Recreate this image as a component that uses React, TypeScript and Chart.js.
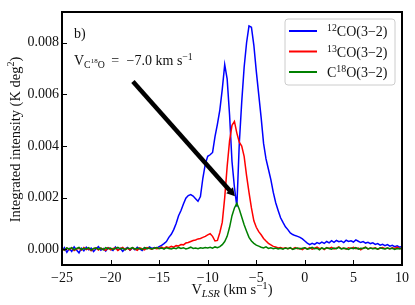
import React, { useEffect, useRef } from "react";
import { Chart, registerables } from "chart.js";

Chart.register(...registerables);

const FONT = '"Liberation Serif", "Times New Roman", serif';
const FS = 14;

// Velocity channels (km/s)
const velocity = [
  -25, -24.75, -24.5, -24.25, -24, -23.75, -23.5, -23.25, -23, -22.75,
  -22.5, -22.25, -22, -21.75, -21.5, -21.25, -21, -20.75, -20.5, -20.25,
  -20, -19.75, -19.5, -19.25, -19, -18.75, -18.5, -18.25, -18, -17.75,
  -17.5, -17.25, -17, -16.75, -16.5, -16.25, -16, -15.75, -15.5, -15.25,
  -15, -14.75, -14.5, -14.25, -14, -13.75, -13.5, -13.25, -13, -12.75,
  -12.5, -12.25, -12, -11.75, -11.5, -11.25, -11, -10.75, -10.5, -10.25,
  -10, -9.75, -9.5, -9.25, -9, -8.75, -8.5, -8.25, -8, -7.75,
  -7.5, -7.25, -7, -6.75, -6.5, -6.25, -6, -5.75, -5.5, -5.25,
  -5, -4.75, -4.5, -4.25, -4, -3.75, -3.5, -3.25, -3, -2.75,
  -2.5, -2.25, -2, -1.75, -1.5, -1.25, -1, -0.75, -0.5, -0.25,
  0, 0.25, 0.5, 0.75, 1, 1.25, 1.5, 1.75, 2, 2.25,
  2.5, 2.75, 3, 3.25, 3.5, 3.75, 4, 4.25, 4.5, 4.75,
  5, 5.25, 5.5, 5.75, 6, 6.25, 6.5, 6.75, 7, 7.25,
  7.5, 7.75, 8, 8.25, 8.5, 8.75, 9, 9.25, 9.5, 9.75,
  10,
];

// Integrated intensities, in units of 1e-4 K deg^2
const UNIT = 1e-4;
const co12 = [
  -0.5, 0.6, -1.2, 0.3, -0.8, 0.9, -0.3, -1.4, 0.4, -0.6,
  0.8, -0.2, 0.5, -0.9, 0.2, 1.0, -0.4, 0.3, -0.7, 0.6,
  0.1, -0.5, 0.9, -0.3, 0.4, -0.8, 0.2, 0.7, -0.4, 0.5,
  -0.2, 0.8, 0.1, -0.5, 0.6, 0.2, 0.9, 0.3, 0.7, 0.4,
  1.0, 1.5, 2.2, 3.0, 4.6, 5.8, 7.6, 10.0, 13.0, 15.0,
  17.5, 19.8, 20.8, 21.2, 20.6, 19.6, 18.6, 20.4, 27.5, 33.0,
  36.0, 36.6, 37.5, 43.6, 48.5, 54.0, 62.0, 71.5, 66.0, 52.0,
  34.0, 24.0, 16.5, 41.0, 57.0, 70.5, 80.0, 86.5, 86.0, 79.0,
  69.0, 60.0, 51.0, 41.0, 35.0, 31.0, 27.0, 22.0, 18.0, 15.0,
  12.2, 10.4, 8.7, 7.6, 6.3, 5.7, 5.3, 5.0, 4.6, 4.0,
  3.2, 2.4, 1.8, 2.3, 1.9, 2.6, 2.2, 2.8, 2.3, 3.0,
  2.5, 3.3, 2.7, 3.4, 2.9, 3.2, 2.6, 3.5, 3.0, 3.3,
  2.8, 3.6, 3.1, 2.6, 3.0, 2.4, 2.7, 2.2, 2.5, 1.9,
  2.2, 1.6, 1.9, 1.4, 1.8, 1.2, 1.5, 1.0, 1.3, 0.8,
  1.1,
];
const co13 = [
  0.3, -0.4, 0.5, -0.2, 0.6, -0.5, 0.1, 0.4, -0.3, 0.7,
  -0.1, 0.3, -0.6, 0.2, 0.5, -0.3, 0.4, 0.0, -0.4, 0.6,
  -0.2, 0.3, 0.5, -0.5, 0.2, 0.7, -0.1, 0.4, -0.3, 0.6,
  0.1, -0.4, 0.5, 0.2, -0.2, 0.6, 0.3, 0.0, 0.5, 0.2,
  0.4, 0.8, 0.3, 0.9, 0.6, 1.1, 0.8, 1.4, 1.3, 1.8,
  1.7, 2.4, 2.6, 3.0, 3.4, 3.6, 4.0, 4.2, 4.6, 5.0,
  5.6, 6.0, 5.0, 3.2, 3.4, 6.5, 10.5, 20.0, 32.0, 42.0,
  48.0, 49.5, 45.0, 41.5, 40.0, 36.0, 28.5, 22.0, 16.0, 11.0,
  8.5, 6.8, 5.6, 4.2, 3.2, 2.3, 1.7, 1.1, 0.9, 0.5,
  0.7, 0.3, 0.6, 0.2, 0.5, 0.1, 0.6, 0.2, 0.4, -0.1,
  0.5, 0.1, 0.6, 0.0, 0.4, 0.8, 0.2, 0.5, -0.1, 0.6,
  0.3, 0.7, 0.1, 0.4, 0.9, 0.2, 0.5, 0.0, 0.6, 0.3,
  0.7, 0.2, 0.5, -0.2, 0.4, 0.8, 0.1, 0.5, 0.3, 0.6,
  0.0, 0.4, 0.7, 0.2, 0.5, 0.1, 0.6, 0.3, 0.8, 0.2,
  0.4,
];
const c18o = [
  0.2, -0.3, 0.5, 0.0, 0.6, -0.2, 0.3, 0.7, -0.1, 0.4,
  0.1, 0.6, -0.3, 0.3, 0.5, 0.0, 0.4, -0.2, 0.6, 0.2,
  0.5, -0.1, 0.3, 0.7, 0.1, 0.4, -0.2, 0.5, 0.2, 0.6,
  0.0, 0.4, 0.3, -0.1, 0.6, 0.2, 0.5, 0.1, 0.4, 0.7,
  0.2, 0.5, 0.0, 0.6, 0.3, 0.1, 0.5, 0.2, 0.7, 0.3,
  0.6, 0.1, 0.4, 0.8, 0.3, 0.5, 0.2, 0.6, 0.4, 0.7,
  0.5, 0.8, 0.4, 0.9, 0.6, 1.0, 1.8, 3.0, 5.0, 8.5,
  13.0, 16.0, 17.8, 15.5, 12.5, 9.5, 7.0, 4.6, 3.2, 2.3,
  1.6, 1.2, 0.8, 0.5, 0.9, 0.3, 0.6, 0.2, 0.5, 0.1,
  0.4, 0.0, 0.5, 0.2, 0.6, -0.1, 0.3, 0.5, 0.1, 0.4,
  0.6, 0.0, 0.3, 0.7, 0.2, 0.4, -0.2, 0.5, 0.1, 0.6,
  0.3, 0.0, 0.5, 0.2, 0.7, 0.1, 0.4, 0.3, -0.1, 0.5,
  0.2, 0.6, 0.0, 0.4, 0.3, 0.7, 0.1, 0.5, 0.2, 0.4,
  0.0, 0.6, 0.3, 0.1, 0.5, 0.2, 0.4, -0.1, 0.3, 0.2,
  0.3,
];

const xTicks = [-25, -20, -15, -10, -5, 0, 5, 10];
const yTicks = [0, 0.002, 0.004, 0.006, 0.008];
const xRange = [-25, 10];
const yRange = [-0.00061, 0.00919];

// Arrow annotation (data coords): tail -> head
const arrowTail = [-17.7, 0.0065];
const arrowHead = [-7.2, 0.00205];

const seriesNames = ["12CO(3-2)", "13CO(3-2)", "C18O(3-2)"];
const seriesColors = ["#0000ff", "#ff0000", "#008000"];

type Seg = { t: string; s?: number; dy?: number; it?: boolean; gx?: number };
const SUP = FS * 0.7;
const legendLabels: Seg[][] = [
  [{ t: "12", s: SUP, dy: -5 }, { t: "CO(3\u22122)" }],
  [{ t: "13", s: SUP, dy: -5 }, { t: "CO(3\u22122)" }],
  [{ t: "C" }, { t: "18", s: SUP, dy: -5 }, { t: "O(3\u22122)" }],
];
const YT = 14.5;
const yTitle: Seg[] = [
  { t: "Integrated intensity (K deg", s: YT },
  { t: "2", s: YT * 0.7, dy: -5.5 },
  { t: ")", s: YT },
];
const XT = 14.5;
const xTitle: Seg[] = [
  { t: "V", s: XT },
  { t: "LSR", s: XT * 0.75, dy: 3, it: true },
  { t: " (km s", s: XT },
  { t: "\u22121", s: XT * 0.75, dy: -5.5 },
  { t: ")", s: XT },
];
const panelLabel: Seg[] = [{ t: "b)" }];
const velLabel: Seg[] = [
  { t: "V" },
  { t: "C", s: SUP, dy: 3 },
  { t: "18", s: FS * 0.5, dy: -2 },
  { t: "O", s: SUP, dy: 3 },
  { t: "=", gx: 6.5 },
  { t: "\u22127.0 km s", gx: 7.5 },
  { t: "\u22121", s: SUP, dy: -5 },
];

function setFont(ctx: CanvasRenderingContext2D, g: Seg) {
  ctx.font = `${g.it ? "italic " : ""}${g.s ?? FS}px ${FONT}`;
}
function richWidth(ctx: CanvasRenderingContext2D, segs: Seg[]) {
  let w = 0;
  for (const g of segs) {
    setFont(ctx, g);
    w += (g.gx ?? 0) + ctx.measureText(g.t).width;
  }
  return w;
}
function drawRich(ctx: CanvasRenderingContext2D, x: number, y: number, segs: Seg[], align: "left" | "center") {
  let cx = align === "center" ? x - richWidth(ctx, segs) / 2 : x;
  ctx.textAlign = "left";
  ctx.textBaseline = "alphabetic";
  ctx.fillStyle = "#111";
  for (const g of segs) {
    setFont(ctx, g);
    cx += g.gx ?? 0;
    ctx.fillText(g.t, cx, y + (g.dy ?? 0));
    cx += ctx.measureText(g.t).width;
  }
}

const decorPlugin = {
  id: "decor",
  afterDatasetsDraw(chart: any) {
    const ctx: CanvasRenderingContext2D = chart.ctx;
    const a = chart.chartArea;
    const xs = chart.scales.x;
    const ys = chart.scales.y;
    ctx.save();

    // arrow
    const x0 = xs.getPixelForValue(arrowTail[0]);
    const y0 = ys.getPixelForValue(arrowTail[1]);
    const x1 = xs.getPixelForValue(arrowHead[0]);
    const y1 = ys.getPixelForValue(arrowHead[1]);
    const ang = Math.atan2(y1 - y0, x1 - x0);
    const headLen = 8;
    const headW = 4.5;
    const bx = x1 - headLen * Math.cos(ang);
    const by = y1 - headLen * Math.sin(ang);
    ctx.strokeStyle = "#000";
    ctx.lineWidth = 4.5;
    ctx.lineCap = "butt";
    ctx.beginPath();
    ctx.moveTo(x0, y0);
    ctx.lineTo(bx + 0.5 * Math.cos(ang), by + 0.5 * Math.sin(ang));
    ctx.stroke();
    ctx.fillStyle = "#000";
    ctx.beginPath();
    ctx.moveTo(x1, y1);
    ctx.lineTo(bx + headW * Math.sin(ang), by - headW * Math.cos(ang));
    ctx.lineTo(bx - headW * Math.sin(ang), by + headW * Math.cos(ang));
    ctx.closePath();
    ctx.fill();

    // legend
    const lx = a.left + 223, ly = a.top + 7, lw = 110, lh = 66, r = 3;
    ctx.fillStyle = "rgba(255,255,255,0.85)";
    ctx.strokeStyle = "#cccccc";
    ctx.lineWidth = 1;
    ctx.beginPath();
    ctx.moveTo(lx + r, ly);
    ctx.arcTo(lx + lw, ly, lx + lw, ly + lh, r);
    ctx.arcTo(lx + lw, ly + lh, lx, ly + lh, r);
    ctx.arcTo(lx, ly + lh, lx, ly, r);
    ctx.arcTo(lx, ly, lx + lw, ly, r);
    ctx.closePath();
    ctx.fill();
    ctx.stroke();
    legendLabels.forEach((segs, i) => {
      const yy = ly + 12 + i * 20.5;
      ctx.strokeStyle = seriesColors[i];
      ctx.lineWidth = 2;
      ctx.beginPath();
      ctx.moveTo(lx + 4, yy);
      ctx.lineTo(lx + 32, yy);
      ctx.stroke();
      drawRich(ctx, lx + 42, yy + 5, segs, "left");
    });

    // texts
    drawRich(ctx, a.left + 12, a.top + 26, panelLabel, "left");
    drawRich(ctx, a.left + 12, a.top + 53, velLabel, "left");
    drawRich(ctx, (a.left + a.right) / 2, 294, xTitle, "center");
    ctx.save();
    ctx.translate(19.5, (a.top + a.bottom) / 2 + 1);
    ctx.rotate(-Math.PI / 2);
    drawRich(ctx, 0, 0, yTitle, "center");
    ctx.restore();

    // frame + inward ticks
    ctx.strokeStyle = "#000";
    ctx.lineWidth = 1;
    xTicks.forEach((v) => {
      const px = Math.round(xs.getPixelForValue(v)) + 0.5;
      ctx.beginPath();
      ctx.moveTo(px, a.bottom);
      ctx.lineTo(px, a.bottom - 5);
      ctx.stroke();
    });
    yTicks.forEach((v) => {
      const py = Math.round(ys.getPixelForValue(v)) + 0.5;
      ctx.beginPath();
      ctx.moveTo(a.left, py);
      ctx.lineTo(a.left + 5, py);
      ctx.stroke();
    });
    ctx.lineWidth = 2;
    ctx.strokeRect(a.left, a.top, a.right - a.left, a.bottom - a.top);
    ctx.restore();
  },
};

export default function App() {
  const ref = useRef<HTMLCanvasElement>(null);
  useEffect(() => {
    document.body.style.margin = "0";
    const mk = (vals: number[]) => velocity.map((v, i) => ({ x: v, y: vals[i] * UNIT }));
    const all = [co12, co13, c18o];
    const chart = new Chart(ref.current!, {
      type: "line",
      data: {
        datasets: all.map((vals, i) => ({
          label: seriesNames[i],
          data: mk(vals),
          borderColor: seriesColors[i],
          backgroundColor: seriesColors[i],
          borderWidth: 1.5,
          pointRadius: 0,
          tension: 0,
          fill: false,
          order: 3 - i,
        })),
      },
      options: {
        animation: false,
        responsive: false,
        maintainAspectRatio: false,
        layout: { padding: { top: 12, right: 13, left: 0, bottom: 0 } },
        plugins: { legend: { display: false }, tooltip: { enabled: false } },
        scales: {
          x: {
            type: "linear",
            min: xRange[0],
            max: xRange[1],
            grid: { display: false, drawTicks: false },
            border: { display: false },
            afterBuildTicks: (s: any) => {
              s.ticks = xTicks.map((v) => ({ value: v }));
            },
            afterFit: (s: any) => {
              s.height = 40;
            },
            ticks: {
              color: "#111",
              padding: 5,
              maxRotation: 0,
              autoSkip: false,
              font: { family: FONT, size: FS },
              callback: (v: any) => (v < 0 ? "\u2212" + Math.abs(v) : String(v)),
            },
          },
          y: {
            type: "linear",
            min: yRange[0],
            max: yRange[1],
            grid: { display: false, drawTicks: false },
            border: { display: false },
            afterBuildTicks: (s: any) => {
              s.ticks = yTicks.map((v) => ({ value: v }));
            },
            afterFit: (s: any) => {
              s.width = 62;
            },
            ticks: {
              color: "#111",
              padding: 3,
              autoSkip: false,
              font: { family: FONT, size: FS },
              callback: (v: any) => Number(v).toFixed(3),
            },
          },
        },
      },
      plugins: [decorPlugin],
    } as any);
    return () => chart.destroy();
  }, []);
  return (
    <div style={{ width: 415, height: 305 }}>
      <canvas ref={ref} width={415} height={305} style={{ display: "block" }} />
    </div>
  );
}
